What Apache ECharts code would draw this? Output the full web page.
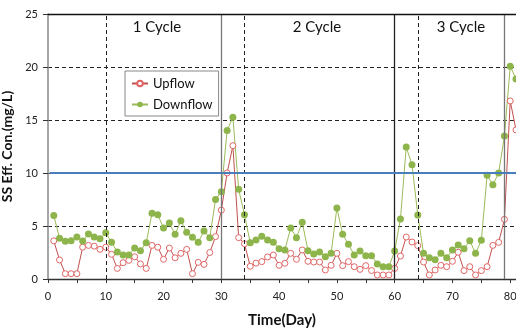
<!DOCTYPE html>
<html><head><meta charset="utf-8">
<script src="https://cdn.jsdelivr.net/npm/echarts@6/dist/echarts.min.js"></script>
<style>html,body{margin:0;padding:0;background:#fff}#c{width:516px;height:330px}</style>
</head><body><div id="c"></div>
<script>
var days = [];
for (var d = 1; d <= 81; d++) days.push(d);
var upflow = [3.6,1.8,0.5,0.5,0.5,3.0,3.17,3.1,2.8,3.0,2.33,1.0,1.54,1.76,2.1,1.42,1.0,3.17,3.0,1.86,2.92,2.0,2.42,2.8,0.5,1.57,1.38,2.5,4.0,6.5,10.0,12.58,3.9,3.33,1.2,1.5,1.64,2.08,2.26,1.29,1.48,2.42,1.86,2.74,1.67,1.6,1.6,0.85,1.29,2.42,1.26,1.64,1.16,0.91,1.26,0.8,0.38,0.38,0.38,1.0,2.17,3.96,3.49,3.15,1.6,0.38,0.85,1.29,1.16,1.67,2.52,0.79,1.16,0.38,0.79,1.16,3.17,3.46,5.63,16.8,14.06];
var downflow = [6.0,3.84,3.55,3.6,3.96,3.58,4.25,3.96,3.8,4.37,3.46,2.55,2.26,2.26,2.92,2.67,3.43,6.2,6.07,4.81,5.28,4.21,5.5,4.4,3.93,3.46,4.53,3.9,7.5,8.24,14.0,15.25,8.46,6.07,3.43,3.68,4.03,3.68,3.46,2.86,2.74,4.81,3.9,5.35,2.67,2.36,2.55,2.1,2.42,6.7,4.21,3.27,2.26,2.64,2.2,2.2,1.42,1.16,1.16,2.64,5.66,12.45,10.78,6.04,2.42,2.0,1.82,2.42,2.0,2.74,3.2,2.86,3.62,2.42,3.65,9.78,8.9,10.0,13.5,20.06,18.87];
var dashedDays = [10, 34, 64];
var solidDays = [30, 60, 79];
var solidColors = ['#777777', '#222222', '#777777'];
var threshold = 10;
var cycleLabels = ['1 Cycle', '2 Cycle', '3 Cycle'];
var xTicks = [0,10,20,30,40,50,60,70,80];
var yTicks = [0,5,10,15,20,25];

function pairs(vals){ return vals.map(function(v,i){ return [days[i], v]; }); }

var markData = [];
dashedDays.forEach(function(x){ markData.push({xAxis:x, lineStyle:{type:[4,3], color:'#222', width:1}}); });
solidDays.forEach(function(x,i){ markData.push({xAxis:x, lineStyle:{type:'solid', color:solidColors[i], width:1.3}}); });
markData.push({yAxis:25, lineStyle:{type:'solid', color:'#111', width:1.3}});
markData.push([{coord:[0.3,threshold], lineStyle:{type:'solid', color:'#4a7ebb', width:2}},{coord:[81,threshold]}]);

var FONT = 'Lato';
var chart = echarts.init(document.getElementById('c'));
chart.setOption({
  animation:false,
  grid:{left:48, right:0, top:14, bottom:51, outerBoundsMode:'none', containLabel:false},
  legend:{
    left:125, top:71, orient:'vertical', itemGap:8, padding:[6,6,5,6],
    borderColor:'#888', borderWidth:1, backgroundColor:'#fff',
    itemWidth:16, itemHeight:7,
    textStyle:{fontFamily:FONT, fontSize:13, color:'#111'},
    data:['Upflow','Downflow']
  },
  xAxis:{
    type:'value', min:0, max:81, interval:5,
    name:'Time(Day)', nameLocation:'middle', nameGap:34,
    nameTextStyle:{fontFamily:FONT, fontWeight:'bold', fontSize:15, color:'#111'},
    axisLine:{lineStyle:{color:'#333', width:1.3}},
    axisTick:{length:4, lineStyle:{color:'#333'}},
    axisLabel:{margin:12, fontFamily:FONT, fontSize:11, color:'#222', showMaxLabel:false,
      formatter:function(v){ return xTicks.indexOf(v) >= 0 ? String(v) : ''; }},
    splitLine:{show:false}
  },
  yAxis:{
    type:'value', min:0, max:25, interval:5,
    name:'SS Eff. Con.(mg/L)', nameLocation:'middle', nameGap:20,
    nameTextStyle:{fontFamily:FONT, fontWeight:'bold', fontSize:14, color:'#111'},
    axisLine:{show:true, lineStyle:{color:'#888', width:1.5}},
    axisTick:{show:true, length:5, lineStyle:{color:'#333'}},
    axisLabel:{margin:10, fontFamily:FONT, fontSize:11, color:'#222',
      formatter:function(v){ return yTicks.indexOf(v) >= 0 ? String(v) : ''; }},
    splitLine:{show:true, lineStyle:{type:[4,3], color:'#222', width:1}}
  },
  graphic: cycleLabels.map(function(t,i){
    var xs=[157,317,461];
    return {type:'text', x:xs[i], y:27, style:{text:t, fontFamily:FONT, fontSize:15, fill:'#111', align:'center', verticalAlign:'middle'}};
  }),
  series:[
    {name:'Upflow', type:'line', data:pairs(upflow), symbol:'circle', symbolSize:6,
      itemStyle:{color:'#fff', borderColor:'#e06666', borderWidth:1},
      lineStyle:{color:'#c0504d', width:1},
      markLine:{silent:true, symbol:'none', label:{show:false}, data:markData}},
    {name:'Downflow', type:'line', data:pairs(downflow), symbol:'circle', symbolSize:7,
      itemStyle:{color:'#8db54b'},
      lineStyle:{color:'#9bbb59', width:1}}
  ]
});
</script></body></html>
